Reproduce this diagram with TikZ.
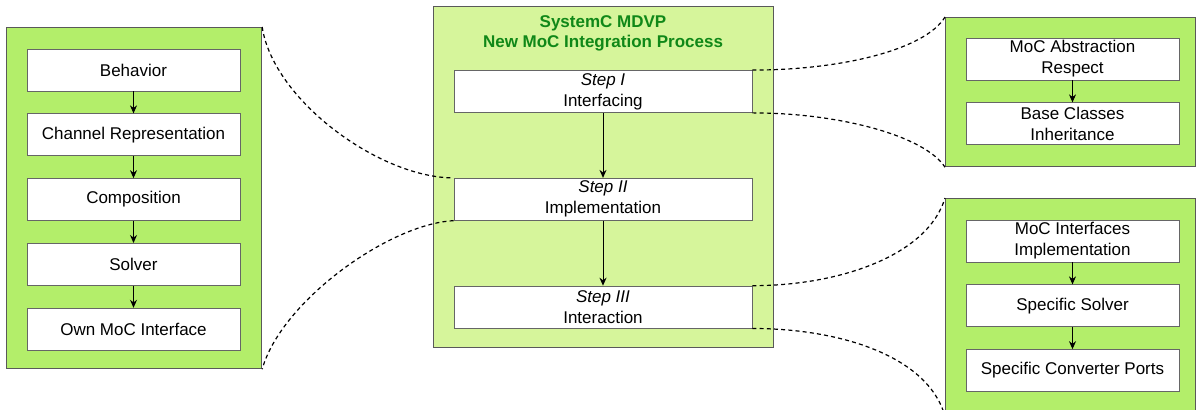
\documentclass[tikz,border=0pt]{standalone}
\usepackage{fontspec}
\setmainfont{Liberation Sans}
\usetikzlibrary{arrows.meta, positioning}
\definecolor{mocgreen}{RGB}{179,238,106}
\definecolor{mdvpgreen}{RGB}{214,245,155}
\definecolor{titlegreen}{RGB}{16,136,24}
\tikzset{
  panel/.style={
    rectangle, anchor=north west,
    draw=black!65, fill=mocgreen,
    line width=0.6pt, inner sep=0pt
  },
  boxnode/.style={
    rectangle, draw=black!60, fill=white,
    minimum width=106.5pt, minimum height=21pt,
    align=center, inner sep=0pt,
    font=\fontsize{8.5}{10.5}\selectfont
  },
  stepnode/.style={boxnode, minimum width=149pt},
  flowarrow/.style={-{Stealth[length=4pt,width=3.5pt]}, line width=0.5pt, black},
  zoomline/.style={dash pattern=on 2pt off 1.6pt, line width=0.6pt, black}
}

\begin{document}
\begin{tikzpicture}[x=0.5pt, y=-0.5pt, node distance=11pt]
    \clip (0,0) rectangle (1196,410);
    % panels
    \node[panel, minimum width=127.5pt, minimum height=170.5pt] (lpanel) at (6,27) {};
    \node[panel, fill=mdvpgreen, minimum width=170pt, minimum height=170.5pt] (cpanel) at (433,6) {};
    \node[panel, minimum width=125pt, minimum height=74.5pt] (rtpanel) at (945,17) {};
    \node[panel, minimum width=125pt, minimum height=108.5pt] (rbpanel) at (945,198) {};

    % left column
    \node[boxnode] (b1) at (133.5,70) {Behavior};
    \node[boxnode, below=of b1] (b2) {Channel Representation};
    \node[boxnode, below=of b2] (b3) {Composition};
    \node[boxnode, below=of b3] (b4) {Solver};
    \node[boxnode, below=of b4] (b5) {Own MoC Interface};
    \draw[flowarrow] (b1)--(b2);
    \draw[flowarrow] (b2)--(b3);
    \draw[flowarrow] (b3)--(b4);
    \draw[flowarrow] (b4)--(b5);

    % centre column
    \node[font=\fontsize{8.5}{10}\selectfont\bfseries, text=titlegreen, align=center] (title) at (603,33)
      {SystemC MDVP\\New MoC Integration Process};
    \node[stepnode] (s1) at (603,91.5) {\textit{Step I}\\Interfacing};
    \node[stepnode, below=32.5pt of s1] (s2) {\textit{Step II}\\Implementation};
    \node[stepnode, below=32.5pt of s2] (s3) {\textit{Step III}\\Interaction};
    \draw[flowarrow] (s1)--(s2);
    \draw[flowarrow] (s2)--(s3);

    % right columns
    \node[boxnode] (r1) at (1072.5,59) {MoC Abstraction\\Respect};
    \node[boxnode, below=of r1] (r2) {Base Classes\\Inheritance};
    \draw[flowarrow] (r1)--(r2);
    \node[boxnode] (q1) at (1072.5,241) {MoC Interfaces\\Implementation};
    \node[boxnode, below=of q1] (q2) {Specific Solver};
    \node[boxnode, below=of q2] (q3) {Specific Converter Ports};
    \draw[flowarrow] (q1)--(q2);
    \draw[flowarrow] (q2)--(q3);

    % zoom lines
    \draw[zoomline] (lpanel.north east) .. controls +(11,73) and +(-74,0) .. (s2.north west);
    \draw[zoomline] (s2.south west) .. controls +(-64,3) and +(19,-68) .. (lpanel.south east);
    \draw[zoomline] (s1.north east) .. controls +(88,0) and +(-20,33) .. (rtpanel.north west);
    \draw[zoomline] (s1.south east) .. controls +(88,0) and +(-20,-31) .. (rtpanel.south west);
    \draw[zoomline] (s3.north east) .. controls +(88,0) and +(-17,57) .. (rbpanel.north west);
    \draw[zoomline] (s3.south east) .. controls +(88,0) and +(-17,-60) .. (rbpanel.south west);
\end{tikzpicture}
\end{document}
